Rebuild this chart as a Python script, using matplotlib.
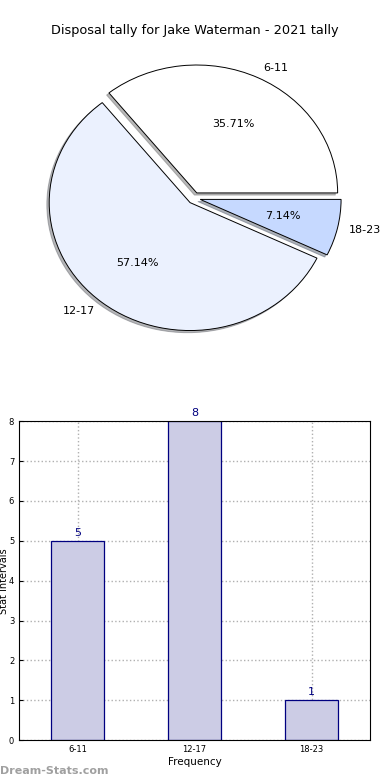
import matplotlib
matplotlib.use("Agg")
import matplotlib.pyplot as plt

# -------------------------------------------------------------------
# Data
# -------------------------------------------------------------------

CATEGORIES = ["6-11", "12-17", "18-23"]
COUNTS = [5, 8, 1]
PIE_COLORS = ["#FFFFFF", "#EBF1FE", "#C6D9FF"]
EXPLODE = [0.045, 0.045, 0.045]
TITLE = "Disposal tally for Jake Waterman - 2021 tally"

fig = plt.figure(figsize=(3.9, 7.8), dpi=100)

# -------------------------------------------------------------------
# Pie chart (top)
# -------------------------------------------------------------------

ax_pie = fig.add_axes([0.046, 0.541, 0.903, 0.410])
wedges, texts, autotexts = ax_pie.pie(
    COUNTS,
    labels=CATEGORIES,
    colors=PIE_COLORS,
    explode=EXPLODE,
    autopct="%.2f%%",
    shadow={"ox": -0.012, "oy": -0.012, "shade": 0.55},
    startangle=0,
    labeldistance=1.08,
    wedgeprops={"edgecolor": "black", "linewidth": 0.7},
    textprops={"fontsize": 8},
)
ax_pie.set_aspect("auto")
ax_pie.set_xlim(-1.25, 1.25)
ax_pie.set_ylim(-1.25, 1.25)

fig.text(0.5, 0.961, TITLE, ha="center", va="center", fontsize=9.3)

# -------------------------------------------------------------------
# Bar chart (bottom)
# -------------------------------------------------------------------

ax_bar = fig.add_axes([0.049, 0.051, 0.9, 0.409])
x = list(range(len(CATEGORIES)))
ax_bar.bar(x, COUNTS, width=0.45, color="#CCCCE5", edgecolor="#000080",
           linewidth=0.9, zorder=2)
for xi, v in zip(x, COUNTS):
    ax_bar.text(xi, v + 0.08, str(v), ha="center", va="bottom",
                fontsize=8, color="#000080")

ax_bar.set_xlim(-0.5, 2.5)
ax_bar.set_ylim(0, 8)
ax_bar.set_xticks(x)
ax_bar.set_xticklabels(CATEGORIES)
ax_bar.set_yticks(range(0, 9))
ax_bar.tick_params(labelsize=6, length=3, direction="in")
ax_bar.grid(True, linestyle=":", color="#B0B0B0", linewidth=1, zorder=0)
ax_bar.set_axisbelow(True)
ax_bar.set_xlabel("Frequency", fontsize=7.5, labelpad=2)
ax_bar.set_ylabel("Stat Intervals", fontsize=7, labelpad=0)
ax_bar.yaxis.set_label_coords(-0.03, 0.5)

fig.text(0.0, 0.012, "Dream-Stats.com", ha="left", va="center",
         fontsize=8, color="#A0A0A0", fontweight="bold")

fig.savefig("out.png", dpi=100)
